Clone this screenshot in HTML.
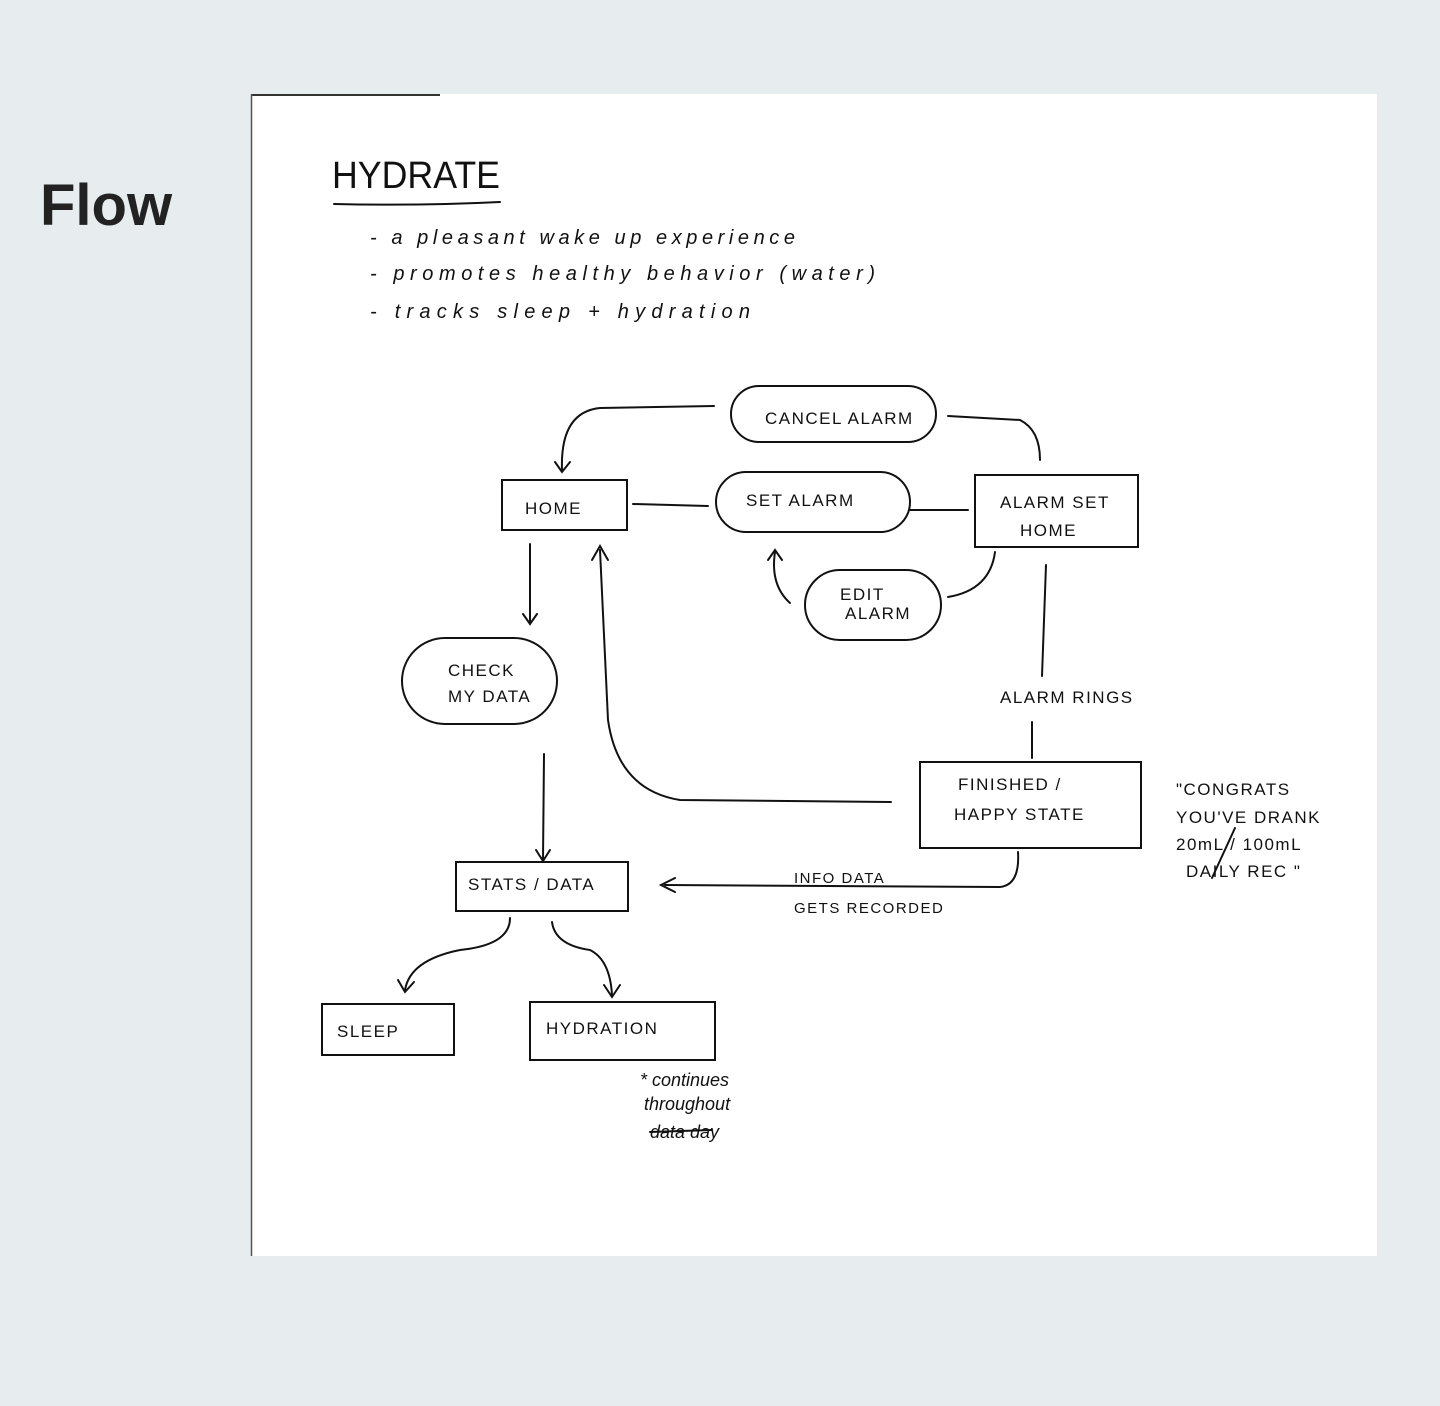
<!DOCTYPE html>
<html><head><meta charset="utf-8"><style>
body{margin:0;width:1440px;height:1406px;background:#e7ecef;position:relative;overflow:hidden;font-family:"Liberation Sans",sans-serif}
h1{position:absolute;left:40px;top:172px;margin:0;font-size:58px;font-weight:bold;color:#222}
svg{position:absolute;left:0;top:0}
text{font-family:"Liberation Sans",sans-serif;fill:#111}
</style></head><body>
<h1>Flow</h1>
<svg width="1440" height="1406" viewBox="0 0 1440 1406">
<rect x="251" y="94" width="1126" height="1162" fill="#fff"/>
<line x1="251" y1="95" x2="440" y2="95" stroke="#333" stroke-width="2"/>
<line x1="251.5" y1="94" x2="251.5" y2="1256" stroke="#555" stroke-width="1.5"/>
<g stroke="#111" stroke-width="2" fill="none" stroke-linecap="round">
<path d="M334 204 Q420 206 500 202"/>
<rect x="502" y="480" width="125" height="50"/>
<rect x="975" y="475" width="163" height="72"/>
<rect x="920" y="762" width="221" height="86"/>
<rect x="456" y="862" width="172" height="49"/>
<rect x="322" y="1004" width="132" height="51"/>
<rect x="530" y="1002" width="185" height="58"/>
<rect x="731" y="386" width="205" height="56" rx="28"/>
<rect x="716" y="472" width="194" height="60" rx="30"/>
<rect x="805" y="570" width="136" height="70" rx="35"/>
<rect x="402" y="638" width="155" height="86" rx="43"/>
<path d="M714 406 L600 408 Q560 412 562 470"/>
<path d="M555 462 L562 472 L570 462"/>
<path d="M948 416 L1020 420 Q1040 430 1040 460"/>
<path d="M633 504 L708 506"/>
<path d="M910 510 L968 510"/>
<path d="M995 552 Q990 590 948 597"/>
<path d="M790 603 Q770 585 775 552"/>
<path d="M768 560 L775 550 L782 560"/>
<path d="M1046 565 L1042 676"/>
<path d="M1032 722 L1032 758"/>
<path d="M530 544 L530 624"/>
<path d="M523 614 L530 624 L537 614"/>
<path d="M891 802 L680 800 Q618 790 608 720 L600 550"/>
<path d="M592 560 L600 546 L608 560"/>
<path d="M544 754 L543 860"/>
<path d="M536 850 L543 861 L550 850"/>
<path d="M1018 852 Q1020 885 1000 887 L665 885"/>
<path d="M675 878 L661 885 L675 892"/>
<path d="M510 918 Q510 945 460 950 Q410 960 405 990"/>
<path d="M398 980 L405 992 L414 982"/>
<path d="M552 922 Q555 945 590 950 Q610 960 612 995"/>
<path d="M604 985 L612 997 L620 985"/>
<path d="M1235 828 L1212 878"/>
<path d="M650 1132 L712 1130"/>
</g>
<text x="332" y="188" font-size="38" textLength="168" lengthAdjust="spacingAndGlyphs">HYDRATE</text>
<g font-size="20" font-style="italic">
<text x="370" y="244" textLength="425">-  a pleasant  wake up  experience</text>
<text x="370" y="280" textLength="505">-  promotes   healthy   behavior  (water)</text>
<text x="370" y="318" textLength="380">-    tracks    sleep  +  hydration</text>
</g>
<g font-size="17" letter-spacing="1.5">
<text x="765" y="424">CANCEL ALARM</text>
<text x="525" y="514">HOME</text>
<text x="746" y="506">SET  ALARM</text>
<text x="1000" y="508">ALARM SET</text>
<text x="1020" y="536">HOME</text>
<text x="840" y="600">EDIT</text>
<text x="845" y="619">ALARM</text>
<text x="448" y="676">CHECK</text>
<text x="448" y="702">MY DATA</text>
<text x="1000" y="703">ALARM RINGS</text>
<text x="958" y="790">FINISHED /</text>
<text x="954" y="820">HAPPY STATE</text>
<text x="1176" y="795">"CONGRATS</text>
<text x="1176" y="823">YOU'VE DRANK</text>
<text x="1176" y="850">20mL / 100mL</text>
<text x="1186" y="877">DAILY REC "</text>
<text x="468" y="890">STATS / DATA</text>
<text x="794" y="883" font-size="15">INFO DATA</text>
<text x="794" y="913" font-size="15">GETS  RECORDED</text>
<text x="337" y="1037">SLEEP</text>
<text x="546" y="1034">HYDRATION</text>
</g>
<g font-size="18" font-style="italic">
<text x="640" y="1086">* continues</text>
<text x="644" y="1110">throughout</text>
<text x="650" y="1138">data  day</text>
</g>
</svg>
</body></html>
